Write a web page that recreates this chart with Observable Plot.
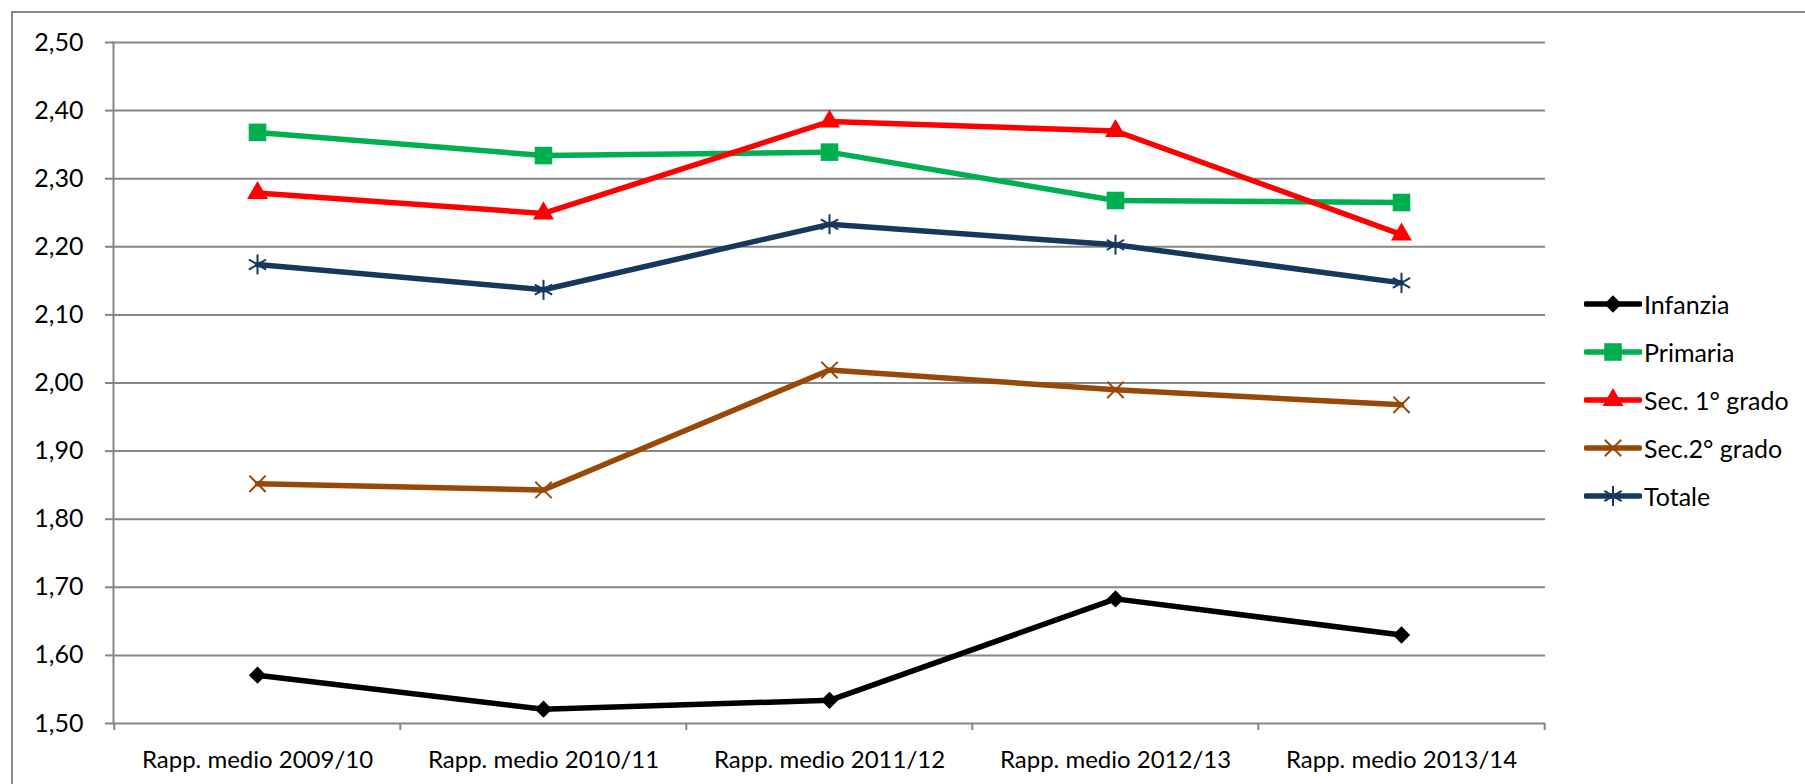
<!DOCTYPE html>
<html><head><meta charset="utf-8">
<script src="https://cdn.jsdelivr.net/npm/d3@7"></script>
<script src="https://cdn.jsdelivr.net/npm/@observablehq/plot@0.6"></script>
<style>
html,body{margin:0;padding:0;background:#fff;overflow:hidden}
#wrap{position:relative;width:1805px;height:784px;overflow:hidden;font-family:Lato,sans-serif;color:#000}
#border{position:absolute;left:11px;top:11px;width:1900px;height:900px;border:2px solid #8a8a8a;box-sizing:border-box}
#chart{position:absolute;left:0;top:0}
#legend{position:absolute;left:1584px;top:280px}
.row{display:flex;align-items:center;height:48px;font-size:25px;line-height:1}
.row svg{display:block;margin-right:2px}
</style>
</head><body>
<div id="wrap"><div id="border"></div><div id="chart"></div><div id="legend"></div></div>
<script>
const categories = ["Rapp. medio 2009/10","Rapp. medio 2010/11","Rapp. medio 2011/12","Rapp. medio 2012/13","Rapp. medio 2013/14"];
const seriesNames = ["Infanzia","Primaria","Sec. 1° grado","Sec.2° grado","Totale"];
const infanzia = [1.571, 1.521, 1.534, 1.683, 1.630];
const primaria = [2.368, 2.334, 2.339, 2.268, 2.265];
const sec1 = [2.279, 2.249, 2.384, 2.370, 2.218];
const sec2 = [1.852, 1.843, 2.019, 1.990, 1.968];
const totale = [2.174, 2.137, 2.233, 2.203, 2.147];
const yTicks = [1.5, 1.6, 1.7, 1.8, 1.9, 2.0, 2.1, 2.2, 2.3, 2.4, 2.5];

const seriesValues = [infanzia, primaria, sec1, sec2, totale];
const colors = ["#000000", "#00B050", "#FF0000", "#984807", "#17375E"];
const symbols = ["diamond2", "square2", "triangle2", "times", "asterisk"];
const d3symbols = [d3.symbolDiamond2, d3.symbolSquare2, d3.symbolTriangle2, d3.symbolTimes, d3.symbolAsterisk];
const filled = [true, true, true, false, false];
const radii = [7.8, 11.2, 10, 7.5, 9.5];

const width = 1805, height = 784, ml = 113, mr = 260, mt = 42, mb = 61;
const step = (width - ml - mr) / categories.length;
const grid = "#868686";

const data = seriesNames.flatMap((s, i) => seriesValues[i].map((v, j) => ({series: s, cat: categories[j], value: v})));

const seriesMarks = seriesNames.flatMap((s, i) => {
  const d = data.filter(r => r.series === s);
  return [
    Plot.line(d, {x: "cat", y: "value", stroke: colors[i], strokeWidth: 5.5, strokeLinejoin: "round", strokeLinecap: "round"}),
    Plot.dot(d, filled[i]
      ? {x: "cat", y: "value", symbol: () => symbols[i], r: radii[i], fill: colors[i], stroke: "none"}
      : {x: "cat", y: "value", symbol: () => symbols[i], r: radii[i], fill: "none", stroke: colors[i], strokeWidth: 2})
  ];
});

const chart = Plot.plot({
  width, height, marginLeft: ml, marginRight: mr, marginTop: mt, marginBottom: mb,
  style: {fontFamily: "Lato, sans-serif", fontSize: "25px", background: "transparent", color: "#000"},
  x: {type: "point", domain: categories, padding: 0.5},
  y: {domain: [yTicks[0], yTicks[yTicks.length - 1]]},
  symbol: {type: "identity"},
  marks: [
    Plot.gridY(yTicks, {stroke: grid, strokeOpacity: 1, strokeWidth: 2}),
    Plot.axisY(yTicks, {tickSize: 8, tickPadding: 22, tickFormat: d => d.toFixed(2).replace(".", ","), stroke: grid, strokeWidth: 2, fill: "#000", fontSize: 25, label: null}),
    Plot.frame({anchor: "left", stroke: grid, strokeWidth: 2}),
    Plot.ruleX(categories, {x: d => d, y1: () => yTicks[0], y2: () => yTicks[0], insetBottom: -7, dx: -step / 2, stroke: grid, strokeWidth: 2}),
    Plot.ruleX(categories.slice(-1), {x: d => d, y1: () => yTicks[0], y2: () => yTicks[0], insetBottom: -7, dx: step / 2, stroke: grid, strokeWidth: 2}),
    Plot.axisX({tickSize: 0, tickPadding: 27, fontSize: 24, fill: "#000", label: null}),
    ...seriesMarks
  ]
});
document.getElementById("chart").appendChild(chart);

const legend = d3.select("#legend");
seriesNames.forEach((s, i) => {
  const row = legend.append("div").attr("class", "row");
  const svg = row.append("svg").attr("width", 58).attr("height", 30);
  svg.append("line").attr("x1", 2).attr("x2", 56).attr("y1", 15).attr("y2", 15)
    .attr("stroke", colors[i]).attr("stroke-width", 5.5).attr("stroke-linecap", "round");
  svg.append("path").attr("transform", "translate(29,15)")
    .attr("d", d3.symbol(d3symbols[i], Math.PI * radii[i] * radii[i])())
    .attr("fill", filled[i] ? colors[i] : "none")
    .attr("stroke", filled[i] ? "none" : colors[i]).attr("stroke-width", 2);
  row.append("span").text(s);
});
</script>
</body></html>
